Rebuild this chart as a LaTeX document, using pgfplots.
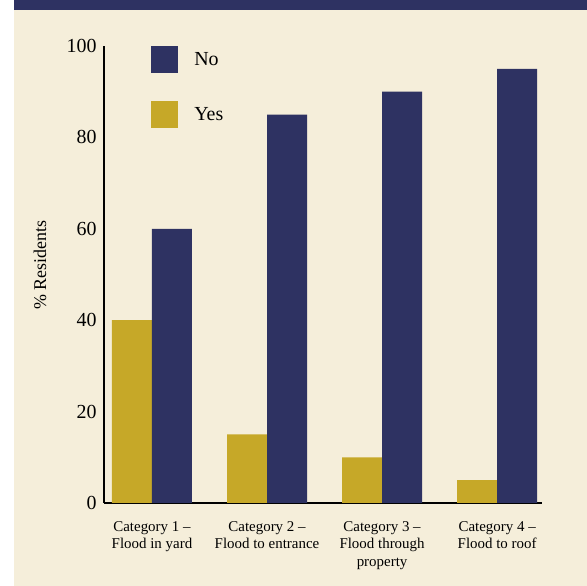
\documentclass[border=0pt]{standalone}
\usepackage{fontspec}
\setmainfont{Liberation Serif}
\usepackage{pgfplots}
\pgfplotsset{compat=1.18}
\definecolor{navy}{RGB}{46,50,98}
\definecolor{gold}{RGB}{198,168,40}
\definecolor{cream}{RGB}{245,238,218}
\pgfplotsset{sqlegend/.style={legend image code/.code={\fill[##1] (0bp,-13.5bp) rectangle (27bp,13.5bp);}}}
\begin{document}
\begin{tikzpicture}
\useasboundingbox (0,0) rectangle (587bp,586bp);
\fill[white] (0,0) rectangle (587bp,586bp);
\fill[cream] (14bp,0) rectangle (587bp,576bp);
\fill[navy] (14bp,576bp) rectangle (587bp,586bp);
\begin{axis}[
  at={(104bp,83bp)}, anchor=south west,
  scale only axis, width=438bp, height=457bp,
  xmin=-0.417, xmax=3.39, ymin=0, ymax=100,
  axis x line*=bottom, axis y line*=left,
  axis line style={line width=1.8bp, black},
  ytick={0,20,...,100}, major tick length=0pt,
  xtick={0,1,2,3},
  xticklabels={{Category 1 --\\Flood in yard},{Category 2 --\\Flood to entrance},{Category 3 --\\Flood through\\property},{Category 4 --\\Flood to roof}},
  xticklabel style={align=center, font=\fontsize{15}{17.5}\selectfont, yshift=-15bp},
  yticklabel style={font=\fontsize{20}{24}\selectfont, xshift=-4bp},
  /pgf/number format/assume math mode=true,
  ylabel={\% Residents},
  ylabel style={font=\fontsize{18}{20}\selectfont, at={(axis description cs:-0.146,0.521)}, anchor=center},
  ybar=0pt, bar width=40bp,
  reverse legend,
  legend style={at={(axis description cs:0.1075,1)}, anchor=north west, draw=none, fill=none,
    row sep=28bp, font=\fontsize{20}{24}\selectfont, inner sep=0pt, column sep=14bp},
  legend cell align=left,
]
\addplot[fill=gold, draw=none, sqlegend] coordinates {(0,40)(1,15)(2,10)(3,5)};
\addplot[fill=navy, draw=none, sqlegend] coordinates {(0,60)(1,85)(2,90)(3,95)};
\legend{Yes, No}
\end{axis}
\end{tikzpicture}
\end{document}
